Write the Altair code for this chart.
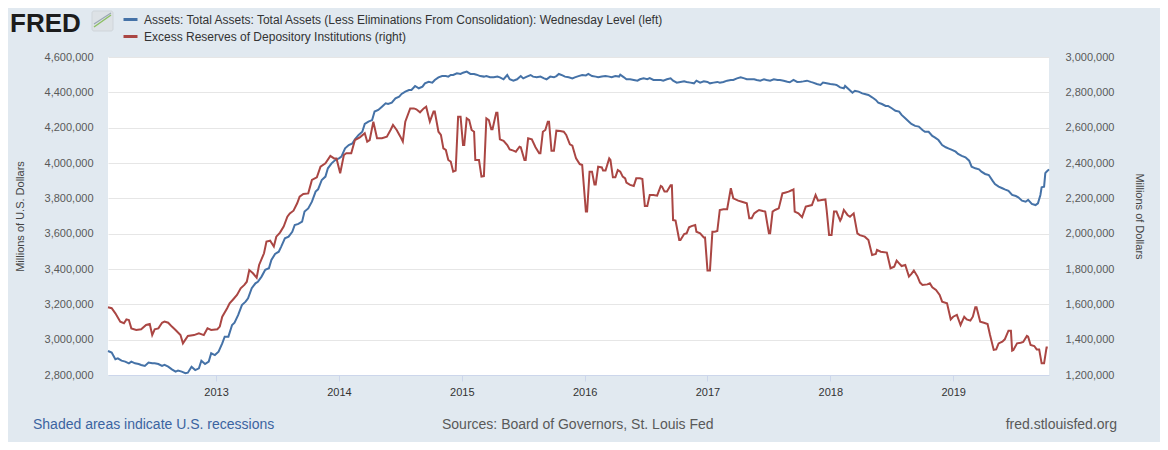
import altair as alt
import pandas as pd

# ---------------- data ----------------
ASSETS = "Assets: Total Assets: Total Assets (Less Eliminations From Consolidation): Wednesday Level (left)"
RESERVES = "Excess Reserves of Depository Institutions (right)"

# decimal-year dates and values (millions of U.S. dollars), weekly-ish
assets_t = [
    2012.12, 2012.15, 2012.18, 2012.20, 2012.23, 2012.26, 2012.29, 2012.31, 2012.34, 2012.37,
    2012.39, 2012.42, 2012.45, 2012.48, 2012.50, 2012.53, 2012.56, 2012.58, 2012.61, 2012.64,
    2012.67, 2012.69, 2012.72, 2012.75, 2012.77, 2012.80, 2012.83, 2012.86, 2012.88, 2012.91,
    2012.94, 2012.96, 2012.99, 2013.02, 2013.05, 2013.07, 2013.10, 2013.13, 2013.15, 2013.18,
    2013.21, 2013.24, 2013.26, 2013.29, 2013.32, 2013.34, 2013.37, 2013.40, 2013.43, 2013.45,
    2013.48, 2013.51, 2013.53, 2013.56, 2013.59, 2013.62, 2013.64, 2013.67, 2013.70, 2013.72,
    2013.75, 2013.78, 2013.81, 2013.83, 2013.86, 2013.89, 2013.91, 2013.94, 2013.97, 2014.00,
    2014.02, 2014.05, 2014.08, 2014.11, 2014.13, 2014.16, 2014.19, 2014.21, 2014.24, 2014.27,
    2014.29, 2014.32, 2014.35, 2014.38, 2014.40, 2014.43, 2014.46, 2014.49, 2014.51, 2014.54,
    2014.57, 2014.59, 2014.62, 2014.65, 2014.68, 2014.70, 2014.73, 2014.76, 2014.78, 2014.81,
    2014.84, 2014.87, 2014.89, 2014.91, 2014.93, 2014.96, 2014.99, 2015.01, 2015.04, 2015.07,
    2015.10, 2015.12, 2015.15, 2015.18, 2015.20, 2015.23, 2015.26, 2015.29, 2015.31, 2015.34,
    2015.37, 2015.39, 2015.42, 2015.45, 2015.48, 2015.50, 2015.53, 2015.56, 2015.58, 2015.61,
    2015.64, 2015.67, 2015.69, 2015.72, 2015.75, 2015.77, 2015.79, 2015.82, 2015.84, 2015.87,
    2015.90, 2015.92, 2015.95, 2015.98, 2016.01, 2016.03, 2016.06, 2016.09, 2016.11, 2016.14,
    2016.17, 2016.20, 2016.22, 2016.25, 2016.28, 2016.29, 2016.32, 2016.34, 2016.37, 2016.40,
    2016.43, 2016.45, 2016.48, 2016.51, 2016.53, 2016.56, 2016.59, 2016.62, 2016.64, 2016.67,
    2016.70, 2016.72, 2016.75, 2016.78, 2016.81, 2016.83, 2016.86, 2016.89, 2016.91, 2016.94,
    2016.97, 2017.00, 2017.02, 2017.05, 2017.08, 2017.10, 2017.13, 2017.16, 2017.19, 2017.21,
    2017.24, 2017.27, 2017.30, 2017.32, 2017.35, 2017.38, 2017.40, 2017.43, 2017.46, 2017.48,
    2017.51, 2017.54, 2017.57, 2017.59, 2017.62, 2017.65, 2017.67, 2017.70, 2017.73, 2017.76,
    2017.78, 2017.81, 2017.84, 2017.86, 2017.89, 2017.92, 2017.94, 2017.97, 2018.00, 2018.03,
    2018.05, 2018.08, 2018.11, 2018.12, 2018.15, 2018.18, 2018.20, 2018.23, 2018.26, 2018.28,
    2018.31, 2018.34, 2018.37, 2018.39, 2018.42, 2018.45, 2018.47, 2018.50, 2018.53, 2018.56,
    2018.58, 2018.61, 2018.64, 2018.66, 2018.69, 2018.72, 2018.75, 2018.77, 2018.80, 2018.83,
    2018.85, 2018.88, 2018.91, 2018.94, 2018.96, 2018.99, 2019.02, 2019.04, 2019.07, 2019.10,
    2019.13, 2019.15, 2019.18, 2019.21, 2019.23, 2019.26, 2019.29, 2019.32, 2019.34, 2019.37,
    2019.40, 2019.42, 2019.45, 2019.48, 2019.51, 2019.53, 2019.56, 2019.59, 2019.61, 2019.64,
    2019.67, 2019.69, 2019.71, 2019.72, 2019.74, 2019.75, 2019.76, 2019.78,
]
assets_v = [
    2936000, 2927000, 2889000, 2894000, 2881000, 2876000, 2866000, 2876000, 2866000, 2862000,
    2857000, 2851000, 2870000, 2866000, 2866000, 2862000, 2851000, 2857000, 2847000, 2832000,
    2819000, 2825000, 2819000, 2810000, 2813000, 2847000, 2828000, 2838000, 2881000, 2862000,
    2876000, 2923000, 2913000, 2932000, 2979000, 3017000, 3017000, 3083000, 3096000, 3140000,
    3196000, 3215000, 3234000, 3291000, 3319000, 3328000, 3357000, 3395000, 3404000, 3451000,
    3485000, 3498000, 3527000, 3574000, 3583000, 3611000, 3649000, 3655000, 3668000, 3725000,
    3743000, 3781000, 3838000, 3851000, 3904000, 3923000, 3970000, 3998000, 4017000, 4026000,
    4036000, 4083000, 4102000, 4111000, 4134000, 4159000, 4177000, 4221000, 4234000, 4243000,
    4291000, 4300000, 4319000, 4338000, 4334000, 4342000, 4366000, 4376000, 4391000, 4404000,
    4413000, 4413000, 4436000, 4423000, 4432000, 4451000, 4460000, 4455000, 4470000, 4485000,
    4492000, 4492000, 4489000, 4498000, 4498000, 4508000, 4504000, 4511000, 4517000, 4504000,
    4504000, 4500000, 4492000, 4489000, 4492000, 4485000, 4485000, 4489000, 4485000, 4474000,
    4498000, 4474000, 4466000, 4474000, 4492000, 4479000, 4489000, 4498000, 4489000, 4485000,
    4489000, 4479000, 4474000, 4489000, 4485000, 4492000, 4504000, 4496000, 4489000, 4485000,
    4479000, 4485000, 4492000, 4498000, 4496000, 4504000, 4492000, 4489000, 4485000, 4489000,
    4492000, 4489000, 4485000, 4492000, 4489000, 4500000, 4485000, 4474000, 4474000, 4470000,
    4466000, 4474000, 4479000, 4474000, 4481000, 4470000, 4470000, 4470000, 4466000, 4474000,
    4479000, 4466000, 4455000, 4459000, 4462000, 4459000, 4455000, 4451000, 4466000, 4455000,
    4462000, 4459000, 4451000, 4455000, 4459000, 4455000, 4459000, 4466000, 4470000, 4470000,
    4479000, 4485000, 4479000, 4474000, 4474000, 4474000, 4470000, 4466000, 4474000, 4470000,
    4466000, 4474000, 4470000, 4470000, 4466000, 4460000, 4457000, 4470000, 4459000, 4460000,
    4462000, 4466000, 4459000, 4455000, 4447000, 4442000, 4455000, 4451000, 4447000, 4445000,
    4442000, 4428000, 4423000, 4436000, 4417000, 4398000, 4409000, 4404000, 4394000, 4391000,
    4385000, 4372000, 4357000, 4342000, 4334000, 4323000, 4323000, 4310000, 4296000, 4291000,
    4272000, 4253000, 4234000, 4221000, 4210000, 4206000, 4187000, 4177000, 4177000, 4153000,
    4145000, 4130000, 4102000, 4089000, 4083000, 4074000, 4064000, 4051000, 4040000, 4032000,
    4013000, 3979000, 3970000, 3964000, 3951000, 3938000, 3932000, 3900000, 3881000, 3866000,
    3857000, 3851000, 3843000, 3819000, 3813000, 3806000, 3787000, 3781000, 3791000, 3768000,
    3762000, 3772000, 3819000, 3862000, 3866000, 3942000, 3951000, 3964000,
]

reserves_t = [
    2012.12, 2012.15, 2012.18, 2012.22, 2012.25, 2012.27, 2012.29, 2012.31, 2012.35, 2012.39,
    2012.43, 2012.46, 2012.48, 2012.50, 2012.53, 2012.56, 2012.58, 2012.61, 2012.64, 2012.67,
    2012.71, 2012.73, 2012.77, 2012.82, 2012.86, 2012.90, 2012.93, 2012.96, 2013.01, 2013.03,
    2013.05, 2013.09, 2013.11, 2013.14, 2013.17, 2013.20, 2013.23, 2013.25, 2013.27, 2013.30,
    2013.33, 2013.35, 2013.39, 2013.41, 2013.44, 2013.47, 2013.49, 2013.52, 2013.55, 2013.58,
    2013.60, 2013.63, 2013.66, 2013.68, 2013.71, 2013.75, 2013.78, 2013.82, 2013.85, 2013.89,
    2013.93, 2013.96, 2013.98, 2014.01, 2014.04, 2014.06, 2014.10, 2014.13, 2014.17, 2014.21,
    2014.23, 2014.25, 2014.28, 2014.31, 2014.35, 2014.39, 2014.42, 2014.44, 2014.47, 2014.50,
    2014.52, 2014.54, 2014.58, 2014.61, 2014.63, 2014.66, 2014.69, 2014.71, 2014.74, 2014.77,
    2014.78, 2014.81, 2014.83, 2014.85, 2014.87, 2014.89, 2014.91, 2014.93, 2014.95, 2014.97,
    2014.99, 2015.01, 2015.02, 2015.04, 2015.06, 2015.08, 2015.10, 2015.11, 2015.14, 2015.16,
    2015.18, 2015.20, 2015.22, 2015.24, 2015.25, 2015.28, 2015.29, 2015.31, 2015.34, 2015.37,
    2015.39, 2015.42, 2015.44, 2015.47, 2015.48, 2015.51, 2015.52, 2015.54, 2015.57, 2015.60,
    2015.63, 2015.64, 2015.66, 2015.68, 2015.70, 2015.71, 2015.73, 2015.75, 2015.77, 2015.80,
    2015.83, 2015.85, 2015.88, 2015.90, 2015.93, 2015.96, 2015.98, 2016.01, 2016.02, 2016.04,
    2016.06, 2016.08, 2016.09, 2016.11, 2016.14, 2016.15, 2016.17, 2016.20, 2016.21, 2016.23,
    2016.25, 2016.27, 2016.29, 2016.31, 2016.33, 2016.34, 2016.37, 2016.40, 2016.42, 2016.45,
    2016.47, 2016.49, 2016.51, 2016.53, 2016.56, 2016.59, 2016.62, 2016.63, 2016.65, 2016.67,
    2016.70, 2016.71, 2016.72, 2016.74, 2016.77, 2016.78, 2016.81, 2016.83, 2016.85, 2016.87,
    2016.90, 2016.91, 2016.94, 2016.97, 2016.98, 2017.00, 2017.02, 2017.04, 2017.06, 2017.08,
    2017.10, 2017.13, 2017.16, 2017.19, 2017.21, 2017.25, 2017.28, 2017.32, 2017.34, 2017.36,
    2017.38, 2017.40, 2017.42, 2017.45, 2017.47, 2017.50, 2017.51, 2017.53, 2017.55, 2017.58,
    2017.61, 2017.63, 2017.66, 2017.69, 2017.70, 2017.71, 2017.74, 2017.77, 2017.80, 2017.82,
    2017.85, 2017.88, 2017.90, 2017.93, 2017.96, 2017.97, 2017.99, 2018.01, 2018.03, 2018.05,
    2018.08, 2018.09, 2018.11, 2018.14, 2018.16, 2018.19, 2018.22, 2018.24, 2018.28, 2018.31,
    2018.34, 2018.37, 2018.38, 2018.41, 2018.46, 2018.49, 2018.52, 2018.54, 2018.56, 2018.58,
    2018.61, 2018.64, 2018.66, 2018.68, 2018.71, 2018.73, 2018.75, 2018.79, 2018.81, 2018.83,
    2018.86, 2018.89, 2018.91, 2018.95, 2018.98, 2019.00, 2019.03, 2019.06, 2019.09, 2019.11,
    2019.14, 2019.16, 2019.18, 2019.19, 2019.22, 2019.25, 2019.28, 2019.30, 2019.33, 2019.35,
    2019.37, 2019.40, 2019.42, 2019.45, 2019.47, 2019.48, 2019.49, 2019.52, 2019.55, 2019.57,
    2019.60, 2019.61, 2019.63, 2019.66, 2019.68, 2019.70, 2019.72, 2019.74, 2019.76, 2019.77,
]
reserves_v = [
    1583000, 1578000, 1549000, 1502000, 1493000, 1515000, 1511000, 1464000, 1455000, 1459000,
    1483000, 1489000, 1426000, 1459000, 1464000, 1496000, 1502000, 1496000, 1474000, 1455000,
    1426000, 1379000, 1421000, 1426000, 1436000, 1426000, 1464000, 1455000, 1459000, 1474000,
    1530000, 1578000, 1606000, 1629000, 1653000, 1691000, 1710000, 1728000, 1794000, 1776000,
    1751000, 1823000, 1889000, 1955000, 1960000, 1927000, 1983000, 2006000, 2040000, 2096000,
    2115000, 2130000, 2172000, 2210000, 2225000, 2228000, 2304000, 2319000, 2379000, 2398000,
    2440000, 2426000, 2426000, 2342000, 2445000, 2455000, 2455000, 2530000, 2545000, 2568000,
    2521000, 2530000, 2634000, 2540000, 2540000, 2549000, 2587000, 2615000, 2587000, 2549000,
    2521000, 2634000, 2709000, 2709000, 2704000, 2687000, 2709000, 2719000, 2634000, 2691000,
    2691000, 2577000, 2559000, 2483000, 2474000, 2417000, 2408000, 2351000, 2357000, 2662000,
    2662000, 2502000, 2502000, 2653000, 2643000, 2587000, 2577000, 2417000, 2417000, 2323000,
    2326000, 2653000, 2643000, 2591000, 2591000, 2685000, 2685000, 2534000, 2526000, 2502000,
    2477000, 2470000, 2464000, 2492000, 2489000, 2417000, 2417000, 2540000, 2534000, 2489000,
    2455000, 2455000, 2577000, 2587000, 2634000, 2634000, 2470000, 2470000, 2583000, 2581000,
    2577000, 2559000, 2506000, 2498000, 2426000, 2394000, 2389000, 2125000, 2125000, 2351000,
    2351000, 2279000, 2279000, 2379000, 2375000, 2357000, 2357000, 2426000, 2417000, 2319000,
    2319000, 2360000, 2351000, 2323000, 2313000, 2289000, 2276000, 2270000, 2313000, 2313000,
    2309000, 2157000, 2157000, 2219000, 2219000, 2215000, 2270000, 2266000, 2238000, 2238000,
    2274000, 2274000, 2077000, 2074000, 1964000, 1964000, 1998000, 2002000, 2036000, 2043000,
    2049000, 2011000, 2002000, 1979000, 1979000, 1791000, 1791000, 2011000, 2011000, 2015000,
    2134000, 2138000, 2138000, 2257000, 2200000, 2187000, 2181000, 2172000, 2087000, 2087000,
    2115000, 2125000, 2134000, 2128000, 2125000, 2002000, 2002000, 2125000, 2134000, 2143000,
    2228000, 2232000, 2238000, 2247000, 2251000, 2125000, 2115000, 2093000, 2153000, 2157000,
    2162000, 2219000, 2187000, 2191000, 2194000, 2134000, 1992000, 1992000, 2125000, 2125000,
    2074000, 2087000, 2134000, 2106000, 2096000, 2115000, 2002000, 1992000, 1983000, 1964000,
    1879000, 1885000, 1908000, 1898000, 1893000, 1804000, 1813000, 1847000, 1832000, 1817000,
    1823000, 1757000, 1772000, 1791000, 1757000, 1723000, 1710000, 1713000, 1719000, 1696000,
    1681000, 1653000, 1615000, 1606000, 1515000, 1530000, 1540000, 1483000, 1530000, 1515000,
    1508000, 1530000, 1583000, 1583000, 1502000, 1496000, 1489000, 1426000, 1342000, 1345000,
    1379000, 1389000, 1402000, 1451000, 1451000, 1338000, 1342000, 1379000, 1383000, 1387000,
    1421000, 1417000, 1370000, 1364000, 1345000, 1345000, 1266000, 1266000, 1355000, 1355000,
]

year_ticks = [2013, 2014, 2015, 2016, 2017, 2018, 2019]
left_ticks = [2800000, 3000000, 3200000, 3400000, 3600000, 3800000, 4000000, 4200000, 4400000, 4600000]
right_ticks = [1200000, 1400000, 1600000, 1800000, 2000000, 2200000, 2400000, 2600000, 2800000, 3000000]

left_title = "Millions of U.S. Dollars"
right_title = "Millions of Dollars"
logo_text = ["FRED"]
footer_left = ["Shaded areas indicate U.S. recessions"]
footer_mid = ["Sources: Board of Governors, St. Louis Fed"]
footer_right = ["fred.stlouisfed.org"]

# ---------------- chart ----------------
FONT = "Liberation Sans"
W, H = 941, 318

df_a = pd.DataFrame({"t": assets_t, "v": assets_v, "series": ASSETS})
df_r = pd.DataFrame({"t": reserves_t, "v": reserves_v, "series": RESERVES})

x_scale = alt.Scale(domain=[2012.12, 2019.78], nice=False, zero=False)
color_scale = alt.Scale(domain=[ASSETS, RESERVES], range=["#4572a7", "#aa4643"])

x_axis = alt.Axis(
    values=year_ticks, format="d", title=None, grid=False,
    domainColor="#ccd6eb", tickColor="#ccd6eb", tickSize=6, labelPadding=5,
    labelFontSize=11, labelColor="#333333", labelFlush=False,
)

legend = alt.Legend(
    orient="none", legendX=14, legendY=-46, title=None, direction="vertical",
    symbolType="stroke", symbolSize=196, symbolStrokeWidth=3,
    labelFontSize=12, labelLimit=1000, labelColor="#333333",
    rowPadding=2, labelOffset=5, padding=0,
)

blue = alt.Chart(df_a).mark_line(strokeWidth=2).encode(
    x=alt.X("t:Q", scale=x_scale, axis=x_axis),
    y=alt.Y(
        "v:Q",
        scale=alt.Scale(domain=[2800000, 4600000], nice=False, zero=False),
        axis=alt.Axis(
            orient="left", values=left_ticks, format=",d", title=left_title,
            grid=True, gridColor="#e6e6e6", ticks=False, domain=False,
            labelPadding=15, labelFontSize=11, labelColor="#595959",
            titleFontSize=11, titleFontWeight="normal", titleColor="#444444",
            titleX=-88, titleY=H / 2, titleAngle=270, titleAlign="center",
            titleBaseline="middle",
        ),
    ),
    color=alt.Color("series:N", scale=color_scale, legend=legend),
)

red = alt.Chart(df_r).mark_line(strokeWidth=2).encode(
    x=alt.X("t:Q", scale=x_scale, axis=x_axis),
    y=alt.Y(
        "v:Q",
        scale=alt.Scale(domain=[1200000, 3000000], nice=False, zero=False),
        axis=alt.Axis(
            orient="right", values=right_ticks, format=",d", title=right_title,
            grid=False, ticks=False, domain=False,
            labelPadding=16, labelFontSize=11, labelColor="#595959",
            titleFontSize=11, titleFontWeight="normal", titleColor="#444444",
            titleX=89, titleY=H / 2, titleAngle=90, titleAlign="center",
            titleBaseline="middle",
        ),
    ),
    color=alt.Color("series:N", scale=color_scale, legend=legend),
)

logo = alt.Chart(pd.DataFrame({"txt": logo_text})).mark_text(
    font=FONT, fontSize=26, fontWeight="bold", color="#1c1c1c", align="left", baseline="alphabetic"
).encode(text="txt:N", x=alt.value(-98), y=alt.value(-25.5))

logo_box = alt.Chart(pd.DataFrame({"txt": logo_text})).mark_rect(
    fill="#dde2e6", stroke="#cfd5da", strokeWidth=1, cornerRadius=2
).encode(x=alt.value(-16), x2=alt.value(5), y=alt.value(-46), y2=alt.value(-26))

logo_line_g = alt.Chart(pd.DataFrame({"txt": logo_text})).mark_rule(
    color="#8cbf63", strokeWidth=1.5
).encode(x=alt.value(-14), x2=alt.value(3), y=alt.value(-30), y2=alt.value(-42))

logo_line_b = alt.Chart(pd.DataFrame({"txt": logo_text})).mark_rule(
    color="#9aa7b3", strokeWidth=1.2
).encode(x=alt.value(-14), x2=alt.value(3), y=alt.value(-33), y2=alt.value(-44))

f_left = alt.Chart(pd.DataFrame({"txt": footer_left})).mark_text(
    font=FONT, fontSize=14, color="#3b64a1", align="left", baseline="middle"
).encode(text="txt:N", x=alt.value(-75), y=alt.value(368))

f_mid = alt.Chart(pd.DataFrame({"txt": footer_mid})).mark_text(
    font=FONT, fontSize=14, color="#595959", align="left", baseline="middle"
).encode(text="txt:N", x=alt.value(334), y=alt.value(368))

f_right = alt.Chart(pd.DataFrame({"txt": footer_right})).mark_text(
    font=FONT, fontSize=14, color="#595959", align="right", baseline="middle"
).encode(text="txt:N", x=alt.value(1009), y=alt.value(368))

chart = (
    alt.layer(blue, red, logo_box, logo_line_b, logo_line_g, logo, f_left, f_mid, f_right)
    .resolve_scale(y="independent")
    .properties(
        width=W, height=H,
        padding={"left": 100, "top": 49, "right": 111, "bottom": 67},
        autosize=alt.AutoSizeParams(type="none"),
    )
    .configure(background="#e1e9f0", font=FONT)
    .configure_view(fill="white", strokeWidth=0)
)

chart.save("out.html", embed_options={"renderer": "svg", "actions": False})
